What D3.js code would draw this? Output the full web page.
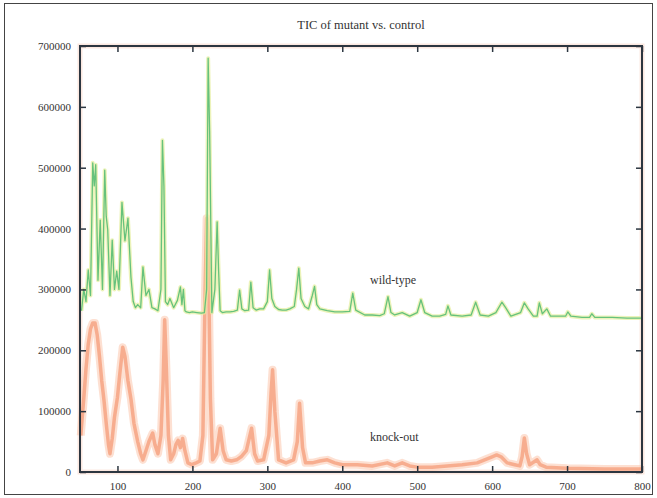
<!DOCTYPE html>
<html><head><meta charset="utf-8">
<script src="https://cdn.jsdelivr.net/npm/d3@7"></script>
<style>body{margin:0;background:#fff}svg{display:block}</style>
</head><body><svg id="c" width="657" height="498"></svg>
<script>
const title = "TIC of mutant vs. control";
const xTicks = [100,200,300,400,500,600,700,800];
const yTicks = [0,100000,200000,300000,400000,500000,600000,700000];
const seriesNames = ["wild-type","knock-out"];

// wild-type (offset trace), retention time vs intensity
const wtX = [52,55,58,61,64,67,69,71,74,77,80,83,85,87,90,93,96,99,102,106,110,114,118,121,124,127,131,134,138,142,146,150,154,158,160,162,164,167,170,175,180,184,186,188,190,192,196,200,206,212,216,219,221,223,226,230,233,235,237,240,245,250,255,260,263,266,270,275,278,281,285,290,295,300,303,306,310,315,320,325,330,336,339,342,345,350,355,360,363,366,370,380,390,400,410,414,418,430,440,450,456,461,465,470,480,490,500,505,510,520,530,538,541,545,560,572,578,584,595,605,613,618,625,638,643,648,655,660,663,667,673,678,690,698,701,705,720,730,733,737,760,780,800];
const wtY = [265000,300000,280000,332000,290000,508000,470000,505000,315000,414000,300000,496000,420000,398000,290000,381000,300000,330000,300000,443000,380000,417000,320000,280000,270000,275000,270000,337000,290000,300000,270000,268000,265000,300000,545000,470000,280000,275000,285000,270000,282000,304000,275000,300000,265000,263000,262000,263000,262000,261000,262000,300000,680000,560000,262000,300000,411000,330000,265000,262000,263000,263000,264000,266000,299000,268000,265000,266000,312000,270000,266000,268000,268000,280000,332000,285000,272000,267000,266000,266000,268000,272000,300000,335000,285000,272000,268000,290000,305000,275000,268000,265000,263000,263000,264000,294000,266000,258000,258000,257000,260000,288000,262000,258000,262000,256000,262000,283000,262000,256000,256000,259000,273000,258000,256000,258000,279000,258000,256000,262000,279000,270000,256000,262000,278000,268000,256000,256000,278000,260000,268000,256000,256000,256000,263000,256000,254000,254000,260000,254000,254000,253000,253000];

// knock-out trace
const koX = [51,55,58,61,64,67,70,73,76,79,
  82,85,88,90,93,96,100,103,107,110,
  114,118,122,127,131,134,138,142,147,150,
  154,158,161,163,165,168,171,175,178,181,
  184,187,190,194,199,205,210,214,217,219,
  221,224,227,232,237,241,245,252,259,265,
  272,279,283,287,295,302,305,307,310,315,
  325,335,340,343,347,351,360,370,380,390,
  400,420,440,460,470,480,490,500,520,540,
  560,580,590,600,606,612,620,630,637,640,
  643,646,650,660,664,672,700,750,800];
const koY = [60000,120000,170000,210000,235000,245000,245000,225000,190000,150000,
  118000,80000,45000,30000,55000,90000,123000,160000,205000,190000,
  150000,120000,80000,50000,30000,20000,35000,50000,64000,45000,
  30000,60000,150000,250000,180000,60000,20000,30000,45000,52000,
  40000,55000,35000,15000,12000,15000,18000,60000,300000,417000,
  380000,120000,20000,30000,72000,35000,20000,18000,20000,25000,
  35000,72000,30000,18000,20000,60000,130000,168000,100000,20000,
  15000,20000,50000,113000,40000,15000,15000,18000,20000,15000,
  12000,12000,10000,15000,10000,15000,10000,8000,8000,10000,
  12000,15000,20000,25000,28000,25000,15000,12000,10000,25000,
  56000,30000,12000,20000,12000,8000,6000,5000,5000];

const m = {l:80, r:642, t:46, b:472};
const svg = d3.select("#c");
const x = d3.scaleLinear().domain([50,800]).range([m.l, m.r]);
const y = d3.scaleLinear().domain([0,700000]).range([m.b, m.t]);
const serif = "'Liberation Serif','DejaVu Serif',serif";

svg.append("rect").attr("x",4.5).attr("y",3.5).attr("width",648).attr("height",491)
  .attr("fill","none").attr("stroke","#444").attr("stroke-width",1);

svg.append("text").attr("x",361).attr("y",29).attr("text-anchor","middle")
  .attr("font-family",serif).attr("font-size",12.5).attr("fill","#333").text(title);

svg.append("rect").attr("x",m.l).attr("y",m.t).attr("width",m.r-m.l).attr("height",m.b-m.t)
  .attr("fill","none").attr("stroke","#f8d8cc").attr("stroke-width",5).attr("opacity",0.6);

const g = svg.append("g");
const line = d3.line().x(d=>x(d[0])).y(d=>y(d[1]));
const koData = d3.zip(koX, koY);
const wtData = d3.zip(wtX, wtY);

g.append("path").datum(koData).attr("d",line).attr("fill","none")
  .attr("stroke","#fbc2a6").attr("stroke-width",8).attr("stroke-linejoin","round").attr("opacity",0.5);
g.append("path").datum(koData).attr("d",line).attr("fill","none")
  .attr("stroke","#f28458").attr("stroke-width",3.5).attr("stroke-linejoin","round").attr("opacity",0.55);

g.append("path").datum(wtData).attr("d",line).attr("fill","none")
  .attr("stroke","#e4ee9c").attr("stroke-width",4).attr("stroke-linejoin","round").attr("opacity",0.7);
g.append("path").datum(wtData).attr("d",line).attr("fill","none")
  .attr("stroke","#66c27c").attr("stroke-width",1.3).attr("stroke-linejoin","round");

svg.append("rect").attr("x",m.l).attr("y",m.t).attr("width",m.r-m.l).attr("height",m.b-m.t)
  .attr("fill","none").attr("stroke","#2c3640").attr("stroke-width",2);

const axColor = "#2c3640";
const axB = svg.append("g").attr("transform",`translate(0,${m.b})`)
  .call(d3.axisBottom(x).tickValues(xTicks).tickSize(-6).tickPadding(10).tickFormat(d3.format("d")));
const axT = svg.append("g").attr("transform",`translate(0,${m.t})`)
  .call(d3.axisTop(x).tickValues(xTicks).tickSize(-6).tickFormat(""));
const axL = svg.append("g").attr("transform",`translate(${m.l},0)`)
  .call(d3.axisLeft(y).tickValues(yTicks).tickSize(-6).tickPadding(9).tickFormat(d3.format("d")));
const axR = svg.append("g").attr("transform",`translate(${m.r},0)`)
  .call(d3.axisRight(y).tickValues(yTicks).tickSize(-6).tickFormat(""));
[axB,axT,axL,axR].forEach(a=>{
  a.select(".domain").remove();
  a.selectAll("line").attr("stroke",axColor).attr("stroke-width",1.5);
  a.selectAll("text").attr("font-family",serif).attr("font-size",11).attr("fill","#333");
});

svg.append("text").attr("x",370).attr("y",284).attr("font-family",serif).attr("font-size",12)
  .attr("fill","#333").text(seriesNames[0]);
svg.append("text").attr("x",370).attr("y",441).attr("font-family",serif).attr("font-size",12)
  .attr("fill","#333").text(seriesNames[1]);
</script></body></html>
